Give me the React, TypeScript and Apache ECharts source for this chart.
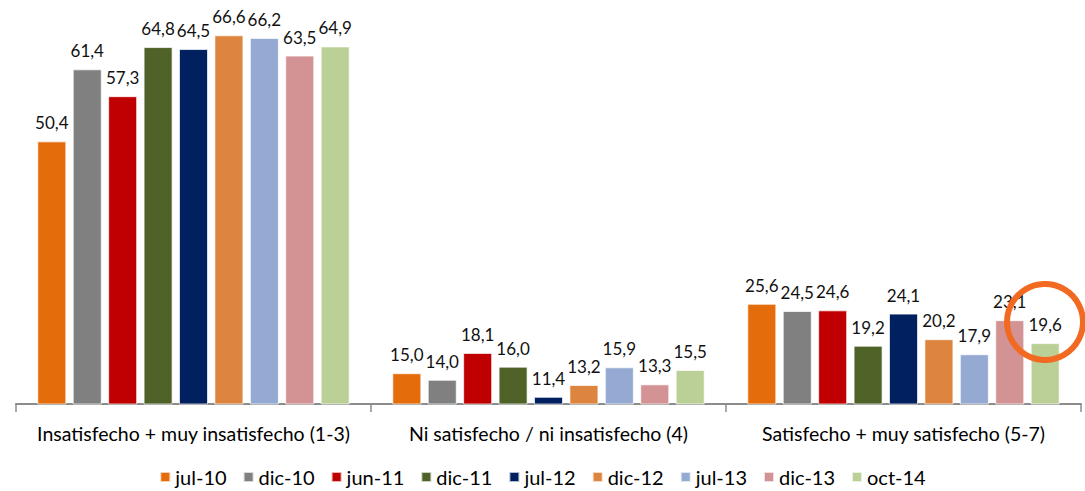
import React, { useEffect, useRef } from "react";
import * as echarts from "echarts";

const categories = [
  "Insatisfecho + muy insatisfecho (1-3)",
  "Ni satisfecho / ni insatisfecho (4)",
  "Satisfecho + muy satisfecho (5-7)",
];
const seriesNames = ["jul-10", "dic-10", "jun-11", "dic-11", "jul-12", "dic-12", "jul-13", "dic-13", "oct-14"];
const jul10 = [50.4, 15.0, 25.6];
const dic10 = [61.4, 14.0, 24.5];
const jun11 = [57.3, 18.1, 24.6];
const dic11 = [64.8, 16.0, 19.2];
const jul12 = [64.5, 11.4, 24.1];
const dic12 = [66.6, 13.2, 20.2];
const jul13 = [66.2, 15.9, 17.9];
const dic13 = [63.5, 13.3, 23.1];
const oct14 = [64.9, 15.5, 19.6];
const seriesValues = [jul10, dic10, jun11, dic11, jul12, dic12, jul13, dic13, oct14];
const colors = ["#E46C0A", "#808080", "#C00000", "#4F6228", "#002060", "#DD843F", "#95AAD2", "#D39294", "#BBD097"];

const FONT = "Lato";

export default function App() {
  const ref = useRef<HTMLDivElement>(null);
  useEffect(() => {
    if (!ref.current) return;
    const chart = echarts.init(ref.current, undefined, { renderer: "svg" });
    chart.setOption({
      animation: false,
      textStyle: { fontFamily: FONT },
      grid: { left: 16, right: 4, top: 13, bottom: 87, containLabel: false },
      legend: {
        top: 462,
        left: "center",
        padding: 4,
        icon: "rect",
        itemWidth: 10,
        itemHeight: 10,
        itemGap: 16,
        textStyle: { fontFamily: FONT, fontSize: 20, color: "#000", lineHeight: 22 },
        data: seriesNames,
      },
      xAxis: {
        type: "category",
        data: categories,
        axisLine: { lineStyle: { color: "#8C8C8C", width: 2 } },
        axisTick: { show: true, length: 8, lineStyle: { color: "#8C8C8C", width: 1.5 } },
        axisLabel: { interval: 0, fontFamily: FONT, fontSize: 19.5, color: "#000", margin: 19 },
      },
      yAxis: {
        type: "value",
        min: 10.3,
        max: 70,
        show: false,
        splitLine: { show: false },
      },
      series: seriesNames.map((name, i) => ({
        name,
        type: "bar",
        data: seriesValues[i],
        barGap: "22%",
        barCategoryGap: "12%",
        itemStyle: { color: colors[i], borderColor: "rgba(255,255,255,0.7)", borderWidth: 1 },
        label: {
          show: true,
          position: "top",
          distance: 10,
          fontFamily: FONT,
          fontSize: 17,
          color: "#111",
          formatter: (p: any) => Number(p.value).toFixed(1).replace(".", ","),
        },
      })),
      graphic: [
        {
          type: "circle",
          shape: { cx: 1045, cy: 322, r: 38 },
          style: { fill: "none", stroke: "#F26A21", lineWidth: 6 },
          z: 100,
        },
      ],
    });
    return () => chart.dispose();
  }, []);
  return (
    <div
      ref={ref}
      style={{ position: "fixed", left: 0, top: 0, width: 1085, height: 491, background: "#fff" }}
    />
  );
}
